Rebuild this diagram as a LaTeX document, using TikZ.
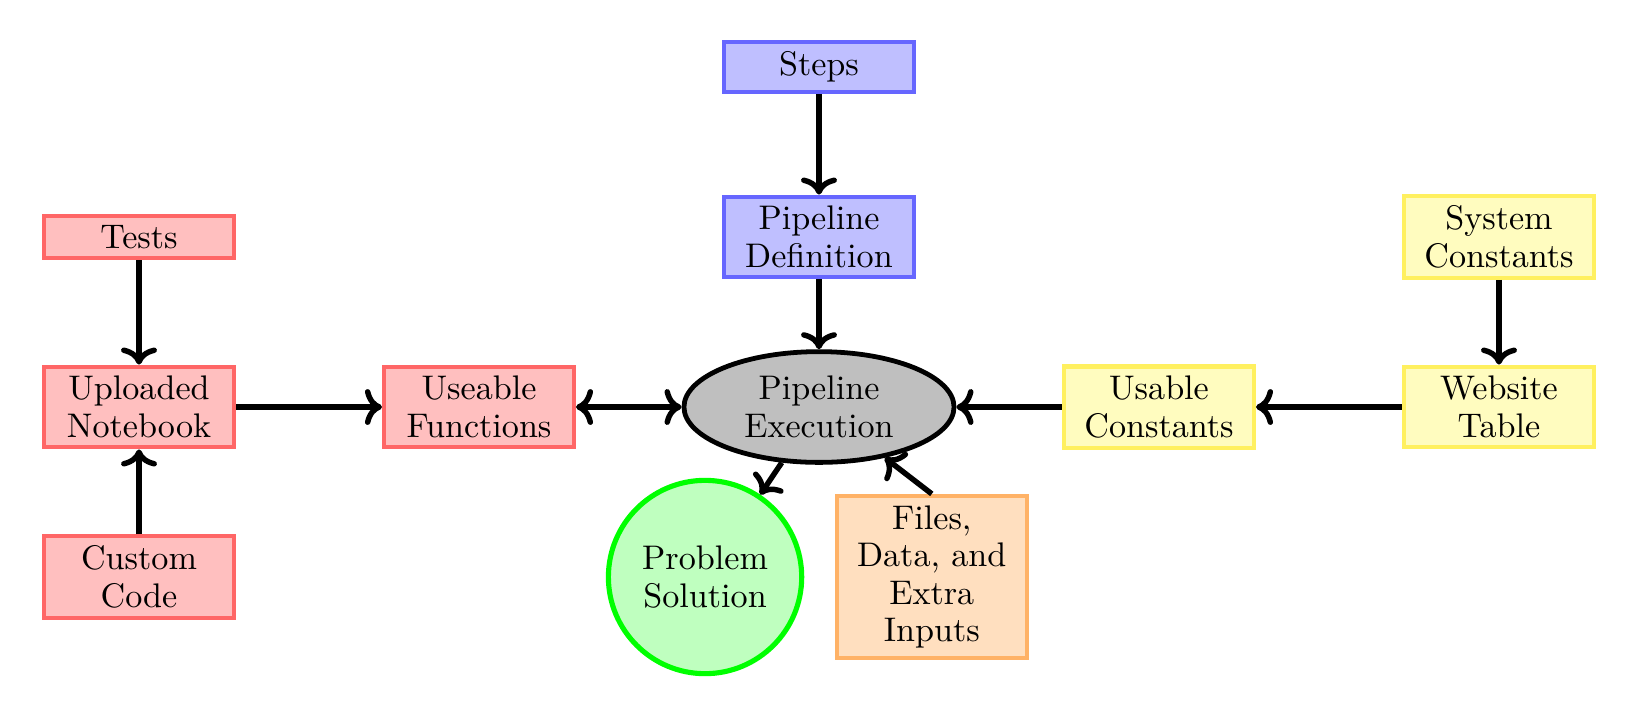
\documentclass[tikz,border=0pt]{standalone}
\usetikzlibrary{shapes.geometric,arrows.meta}
\definecolor{yborder}{RGB}{255,240,95}
\begin{document}
\begin{tikzpicture}[
  base/.style={draw, very thick, align=center, minimum width=1.955cm, inner xsep=3.33pt, inner ysep=2.8pt, font=\fontsize{10}{11}\selectfont},
  redbox/.style={base, draw=red!60, fill=red!25},
  bluebox/.style={base, draw=blue!60, fill=blue!25},
  yellowbox/.style={base, draw=yborder, fill=yellow!25},
  orangebox/.style={base, draw=orange!60, fill=orange!25},
  execnode/.style={ellipse, draw=black, line width=1.4pt, fill=black!25, align=center, minimum width=2.78cm, minimum height=1.14cm, inner sep=1pt, font=\fontsize{10}{11}\selectfont},
  solnode/.style={circle, draw=green, line width=1.5pt, fill=green!25, align=center, minimum size=1.99cm, font=\fontsize{10}{11}\selectfont},
  arr/.style={line width=1.6pt, -{To[length=5pt,width=10.5pt]}},
  darr/.style={line width=1.6pt, {To[length=5pt,width=10.5pt]}-{To[length=5pt,width=10.5pt]}}
]
\useasboundingbox (0,0) rectangle (16.862,-7.412);
\node[redbox] (tests) at (1.431,-2.44) {Tests};
\node[redbox] (upl) at (1.431,-4.19) {Uploaded\\Notebook};
\node[redbox] (cust) at (1.431,-5.94) {Custom\\Code};
\node[redbox] (func) at (4.931,-4.19) {Useable\\Functions};
\node[bluebox] (steps) at (8.431,-0.69) {Steps};
\node[bluebox] (pdef) at (8.431,-2.44) {Pipeline\\Definition};
\node[execnode] (exec) at (8.431,-4.19) {Pipeline\\Execution};
\node[solnode] (sol) at (7.258,-5.94) {Problem\\Solution};
\node[orangebox] (files) at (9.592,-5.94) {Files,\\Data, and\\Extra\\Inputs};
\node[yellowbox] (ucon) at (11.931,-4.19) {Usable\\Constants};
\node[yellowbox] (web) at (15.431,-4.19) {Website\\Table};
\node[yellowbox] (sys) at (15.431,-2.44) {System\\Constants};
\draw[arr] (steps) -- (pdef);
\draw[arr] (pdef) -- (exec);
\draw[arr] (tests) -- (upl);
\draw[arr] (cust) -- (upl);
\draw[arr] (upl) -- (func);
\draw[darr] (func) -- (exec);
\draw[arr] (ucon) -- (exec);
\draw[arr] (web) -- (ucon);
\draw[arr] (sys) -- (web);
\draw[arr] (exec) -- (sol);
\draw[arr] (files.north) -- (exec);
\end{tikzpicture}
\end{document}
